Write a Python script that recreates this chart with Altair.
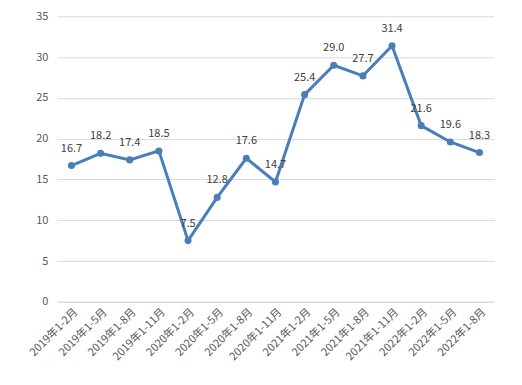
import altair as alt
import pandas as pd

periods = ["2019年1-2月", "2019年1-5月", "2019年1-8月", "2019年1-11月",
           "2020年1-2月", "2020年1-5月", "2020年1-8月", "2020年1-11月",
           "2021年1-2月", "2021年1-5月", "2021年1-8月", "2021年1-11月",
           "2022年1-2月", "2022年1-5月", "2022年1-8月"]
values = [16.7, 18.2, 17.4, 18.5, 7.5, 12.8, 17.6, 14.7, 25.4, 29.0, 27.7, 31.4, 21.6, 19.6, 18.3]

df = pd.DataFrame({"period": periods, "value": values})

font = "Noto Sans CJK SC"
x = alt.X("period:N", sort=periods, scale=alt.Scale(type="point", padding=0.5),
          axis=alt.Axis(title=None, labelAngle=-45, ticks=False, domainColor="#d9d9d9",
                        labelColor="#595959", labelFontSize=11, labelFont=font, labelPadding=4))
y = alt.Y("value:Q", scale=alt.Scale(domain=[0, 35]),
          axis=alt.Axis(title=None, values=[0, 5, 10, 15, 20, 25, 30, 35], ticks=False, domain=False,
                        gridColor="#d9d9d9", labelColor="#595959", labelFontSize=11,
                        labelFont=font, labelPadding=9))

base = alt.Chart(df)
line = base.mark_line(color="#4a7ebb", strokeWidth=3).encode(x=x, y=y)
pts = base.mark_point(color="#4a7ebb", filled=True, size=50, opacity=1).encode(x=x, y=y)
text = base.mark_text(dy=-17, fontSize=11, font=font, color="#404040").encode(
    x=x, y=y, text=alt.Text("value:Q", format=".1f"))

chart = (line + pts + text).properties(
    width=438, height=286,
    autosize=alt.AutoSizeParams(type="none"),
    padding={"left": 49, "top": 8, "right": 20, "bottom": 75},
).configure_view(stroke=None)

chart.save("out.html", embed_options={"renderer": "svg", "actions": False})
